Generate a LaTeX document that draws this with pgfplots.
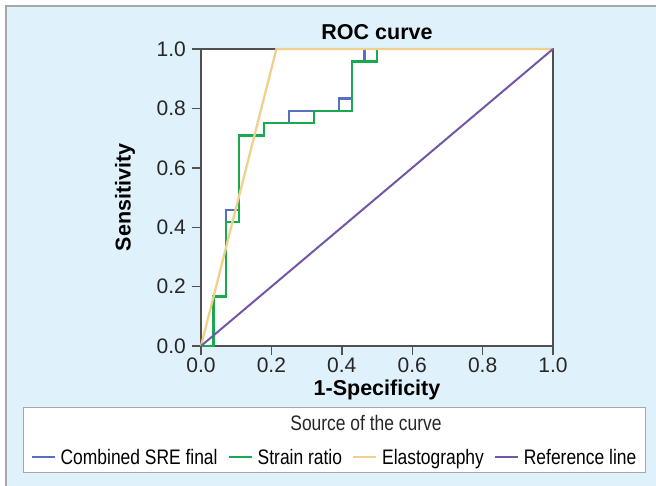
\documentclass[border=0pt]{standalone}
\usepackage{fontspec}
\setmainfont{Liberation Sans}
\newfontfamily\narrowfont[FakeStretch=0.83]{Liberation Sans}
\usepackage{pgfplots}
\pgfplotsset{compat=1.18}

\definecolor{bgblue}{HTML}{DFF1FA}
\definecolor{framegray}{HTML}{A6A6A6}
\definecolor{axgray}{HTML}{505050}
\definecolor{sreblue}{HTML}{5470C0}
\definecolor{srgreen}{HTML}{19A94E}
\definecolor{elyellow}{HTML}{F0D08C}
\definecolor{refpurple}{HTML}{7257A8}

\begin{document}
\begin{tikzpicture}[x=1pt,y=1pt]
\useasboundingbox (0,0) rectangle (656,485);
\fill[white] (0,0) rectangle (656,485);
\filldraw[fill=bgblue,draw=framegray,line width=1.5pt] (6,-10) rectangle (670,479);

% legend frame and its heading
\filldraw[fill=white,draw=framegray,line width=1pt] (23,13) rectangle (645,78);
\node[font=\narrowfont\fontsize{21}{24}\selectfont, text=black!85] at (366,62) {Source of the curve};

\node[font=\bfseries\fontsize{21.5}{25}\selectfont] at (377,453) {ROC curve};

\begin{axis}[
    at={(201pt,139pt)}, anchor=south west,
    scale only axis,
    width=352pt, height=297pt,
    xmin=0, xmax=1, ymin=0, ymax=1,
    clip=false,
    axis background/.style={fill=white},
    axis line style={axgray, line width=1.4pt},
    tick style={axgray, line width=1.4pt},
    tick align=outside,
    major tick length=9pt,
    tick pos=left,
    xtick={0,0.2,...,1}, ytick={0,0.2,...,1},
    tick label style={font=\fontsize{21}{24}\selectfont, text=black!85},
    /pgf/number format/assume math mode=true,
    /pgf/number format/.cd, fixed, fixed zerofill, precision=1,
    /pgfplots/.cd,
    xticklabel style={inner sep=3pt},
    yticklabel style={inner sep=6pt},
    xlabel={1-Specificity}, ylabel={Sensitivity},
    label style={font=\bfseries\fontsize{21.5}{25}\selectfont},
    xlabel style={at={(axis description cs:0.5,-0.148)}, anchor=center},
    ylabel style={at={(axis description cs:-0.216,0.5)}, anchor=center},
    legend columns=4,
    legend style={at={(axis description cs:0.379,-0.375)}, anchor=center,
        draw=none, fill=none, font=\narrowfont\fontsize{21}{24}\selectfont,
        nodes={inner sep=2pt},
        /tikz/every even column/.append style={column sep=8pt}},
    legend image code/.code={%
        \draw[#1, line width=2pt] (0pt,0pt) -- (23pt,0pt);
        \path (26pt,0pt);},
]
\addplot[color=sreblue, line width=2.3pt] coordinates {
    (0,0) (0.0357,0) (0.0357,0.1667) (0.0714,0.1667) (0.0714,0.4583)
    (0.1071,0.4583) (0.1071,0.7083) (0.1786,0.7083) (0.1786,0.75)
    (0.25,0.75) (0.25,0.7917) (0.3929,0.7917) (0.3929,0.8333)
    (0.4286,0.8333) (0.4286,0.9583) (0.4643,0.9583) (0.4643,1) (1,1)
};
\addlegendentry{Combined SRE final}
\addplot[color=srgreen, line width=2.3pt] coordinates {
    (0,0) (0.0357,0) (0.0357,0.1667) (0.0714,0.1667) (0.0714,0.4167)
    (0.1071,0.4167) (0.1071,0.7083) (0.1786,0.7083) (0.1786,0.75)
    (0.3214,0.75) (0.3214,0.7917) (0.4286,0.7917) (0.4286,0.9583)
    (0.5,0.9583) (0.5,1) (1,1)
};
\addlegendentry{Strain ratio}
\addplot[color=elyellow, line width=2.3pt] coordinates {
    (0,0) (0.2143,1) (1,1)
};
\addlegendentry{Elastography}
\addplot[color=refpurple, line width=2pt] coordinates {
    (0,0) (1,1)
};
\addlegendentry{Reference line}
\end{axis}

\end{tikzpicture}
\end{document}
